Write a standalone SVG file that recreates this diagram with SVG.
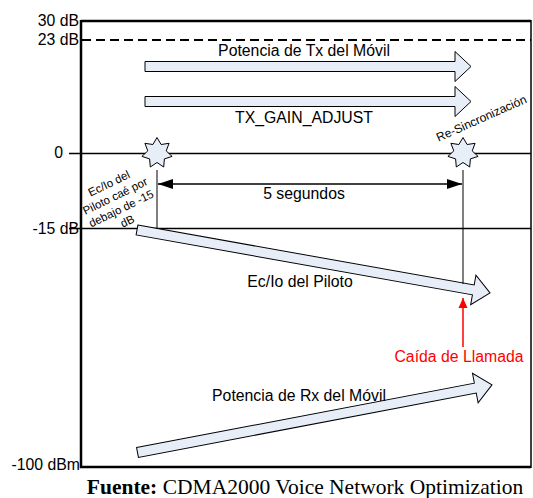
<svg xmlns="http://www.w3.org/2000/svg" width="533" height="498" viewBox="0 0 533 498">
<defs>
<style>
.t{font-family:"Liberation Sans",Arial,sans-serif;font-size:15.8px;fill:#000}
.ts{font-family:"Liberation Sans",Arial,sans-serif;font-size:11.5px;fill:#000}
.blk{fill:#E8EEF8;stroke:#000;stroke-width:1;stroke-linejoin:miter}
.star{fill:#E8EEF8;stroke:#000;stroke-width:1}
.ln{stroke:#000;fill:none}
</style>
<polygon id="star7" class="star" points="0,-15.5 4.1,-8.5 12.1,-9.7 9.2,-2.1 15.1,3.4 7.4,5.9 6.7,14 0,9.5 -6.7,14 -7.4,5.9 -15.1,3.4 -9.2,-2.1 -12.1,-9.7 -4.1,-8.5"/>
<marker id="ah" viewBox="0 0 15 10" refX="15" refY="5" markerWidth="15" markerHeight="10" markerUnits="userSpaceOnUse" orient="auto-start-reverse">
<path d="M0,0 L15,5 L0,10 Z" fill="#000"/>
</marker>
<marker id="ahr" viewBox="0 0 10 14" refX="10" refY="7" markerWidth="10" markerHeight="14" markerUnits="userSpaceOnUse" orient="auto">
<path d="M0,2.5 L10,7 L0,11.5 Z" fill="#FF0000"/>
</marker>
</defs>
<rect width="533" height="498" fill="#fff"/>

<g id="axes">
<line class="ln" x1="81" y1="21" x2="531" y2="21" stroke-width="2.5"/>
<line class="ln" x1="81" y1="20" x2="81" y2="468" stroke-width="2.5"/>
<line class="ln" x1="80" y1="467" x2="531" y2="467" stroke-width="2.5"/>
<line class="ln" x1="531" y1="20" x2="531" y2="468" stroke-width="1.5"/>
<line class="ln" x1="82" y1="40" x2="531" y2="40" stroke-width="2" stroke-dasharray="9,5"/>
<line class="ln" x1="69" y1="153.5" x2="531" y2="153.5" stroke-width="1.5"/>
<line class="ln" x1="69" y1="228.5" x2="531" y2="228.5" stroke-width="1.5"/>
<text class="t" x="79" y="26" text-anchor="end">30 dB</text>
<text class="t" x="79" y="45" text-anchor="end">23 dB</text>
<text class="t" x="63" y="158" text-anchor="end">0</text>
<text class="t" x="79" y="234" text-anchor="end">-15 dB</text>
<text class="t" x="80" y="470" text-anchor="end">-100 dBm</text>
</g>

<g id="tx-power">
<polygon class="blk" points="145,61.5 455,61.5 455,51.5 471,66.5 455,81.5 455,71.5 145,71.5"/>
<text class="t" x="304" y="56" text-anchor="middle">Potencia de Tx del Móvil</text>
</g>

<g id="tx-gain">
<polygon class="blk" points="145,96.5 455,96.5 455,86.5 471,101.5 455,116.5 455,106.5 145,106.5"/>
<text class="t" x="304" y="123" text-anchor="middle">TX_GAIN_ADJUST</text>
</g>

<g id="star-drop">
<use href="#star7" x="157" y="153"/>
</g>
<g id="star-resync">
<use href="#star7" x="463" y="153"/>
</g>

<g id="ecio-note" transform="translate(118,202) rotate(-26)">
<text class="ts" x="0" y="-16.7" text-anchor="middle">Ec/Io del</text>
<text class="ts" x="0" y="-2.7" text-anchor="middle">Piloto caé por</text>
<text class="ts" x="0" y="11.3" text-anchor="middle">debajo de -15</text>
<text class="ts" x="0" y="25.3" text-anchor="middle">dB</text>
</g>

<g id="resync-label">
<text class="ts" style="font-size:12px" transform="translate(483,122) rotate(-24)" text-anchor="middle">Re-Sincronización</text>
</g>

<g id="ecio-pilot">
<polygon class="blk" transform="translate(137,230) rotate(10.1)" points="0,-5 341.6,-5 341.6,-15 358.6,0 341.6,15 341.6,5 0,5"/>
<text class="t" x="300" y="287" text-anchor="middle">Ec/Io del Piloto</text>
</g>

<g id="rx-power">
<polygon class="blk" transform="translate(137.5,452.5) rotate(-10.8)" points="0,-5 343.9,-5 343.9,-15 360.9,0 343.9,15 343.9,5 0,5"/>
<text class="t" x="299" y="401" text-anchor="middle">Potencia de Rx del Móvil</text>
</g>

<g id="call-drop">
<text class="t" x="459" y="362" text-anchor="middle" style="fill:#FF0000">Caída de Llamada</text>
</g>

<g id="connectors">
<line class="ln" x1="157" y1="170" x2="157" y2="228.5" stroke-width="1"/>
<line class="ln" x1="463" y1="170" x2="463" y2="284" stroke-width="1"/>
<line class="ln" x1="158" y1="184" x2="462" y2="184" stroke-width="1.5" marker-start="url(#ah)" marker-end="url(#ah)"/>
<line x1="463" y1="347" x2="463" y2="298" stroke="#FF0000" stroke-width="1.5" marker-end="url(#ahr)"/>
</g>
<text class="t" x="304" y="199" text-anchor="middle">5 segundos</text>

<g id="caption">
<text x="305" y="494" text-anchor="middle" style="font-family:'Liberation Serif','Times New Roman',serif;font-size:21.5px;fill:#000"><tspan font-weight="bold">Fuente:</tspan> CDMA2000 Voice Network Optimization</text>
</g>
</svg>
